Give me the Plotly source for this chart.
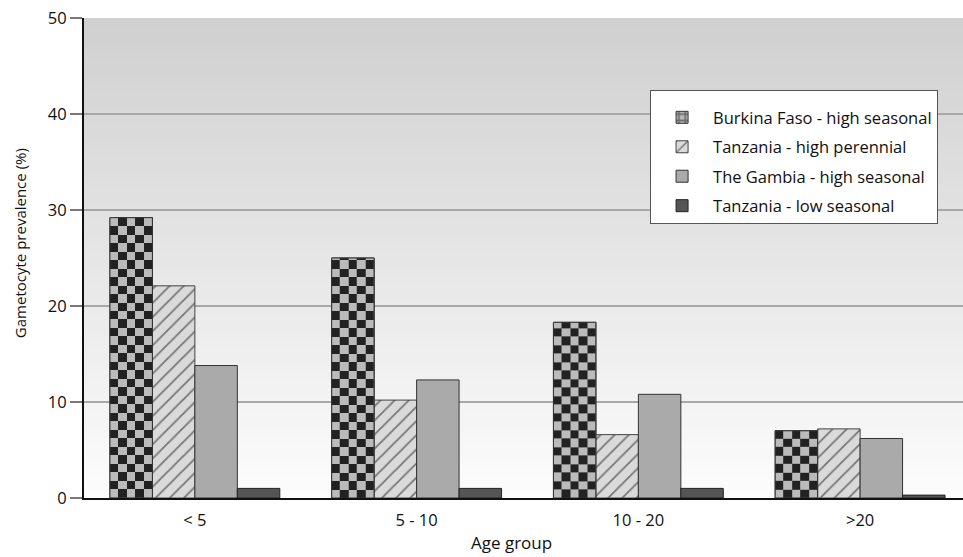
import numpy as np
import plotly.graph_objects as go

categories = ["< 5", "5 - 10", "10 - 20", ">20"]
burkina_high_seasonal = [29.2, 25.0, 18.3, 7.0]
tanzania_high_perennial = [22.1, 10.2, 6.6, 7.2]
gambia_high_seasonal = [13.8, 12.3, 10.8, 6.2]
tanzania_low_seasonal = [1.0, 1.0, 1.0, 0.3]

names = ["Burkina Faso - high seasonal", "Tanzania - high perennial",
         "The Gambia - high seasonal", "Tanzania - low seasonal"]
x_title = "Age group"
y_title = "Gametocyte prevalence (%)"

FONT = "Open Sans"
xpos = list(range(len(categories)))
GROUP_W = 0.766
BAR_W = GROUP_W / 4
offsets = [-GROUP_W / 2 + k * BAR_W for k in range(4)]

fig = go.Figure()

# Bars
fig.add_trace(go.Bar(
    x=xpos, y=burkina_high_seasonal, name=names[0], width=BAR_W, offset=offsets[0],
    marker=dict(color="#bbbbbb", line=dict(color="#333333", width=1),
                pattern=dict(shape="+", fgcolor="#222222", bgcolor="#bbbbbb", size=8, solidity=0.5)),
    legendgroup="a"))
fig.add_trace(go.Bar(
    x=xpos, y=tanzania_high_perennial, name=names[1], width=BAR_W, offset=offsets[1],
    marker=dict(color="#dadada", line=dict(color="#444444", width=1),
                pattern=dict(shape="/", fgcolor="#111111", bgcolor="#dadada", size=10, solidity=0.18)),
    legendgroup="b"))
fig.add_trace(go.Bar(
    x=xpos, y=gambia_high_seasonal, name=names[2], width=BAR_W, offset=offsets[2],
    marker=dict(color="#aaaaaa", line=dict(color="#333333", width=1)),
    legendgroup="c"))
fig.add_trace(go.Bar(
    x=xpos, y=tanzania_low_seasonal, name=names[3], width=BAR_W, offset=offsets[3],
    marker=dict(color="#555555", line=dict(color="#222222", width=1)),
    legendgroup="d"))

# Checkerboard fill for Burkina Faso bars (overlay subplot, drawn above the bars)
CELL = 0.885
NCOL = 5
for xc, v in zip(xpos, burkina_high_seasonal):
    x0 = xc + offsets[0]
    xe = [x0 + i * BAR_W / NCOL for i in range(NCOL + 1)]
    nrow = int(np.ceil(v / CELL))
    ye = [min(j * CELL, v) for j in range(nrow + 1)]
    z = [[(i + j) % 2 for i in range(NCOL)] for j in range(nrow)]
    fig.add_trace(go.Heatmap(
        x=xe, y=ye, z=z, xaxis="x2", yaxis="y2", zmin=0, zmax=1,
        colorscale=[[0, "#bbbbbb"], [1, "#222222"]], showscale=False,
        hoverinfo="skip", showlegend=False))
fig.add_trace(go.Bar(
    x=xpos, y=burkina_high_seasonal, width=BAR_W, offset=offsets[0], xaxis="x2", yaxis="y2",
    marker=dict(color="rgba(0,0,0,0)", line=dict(color="#333333", width=1)),
    showlegend=False, hoverinfo="skip"))

# Background gradient
N = 60
shapes = []
for k in range(N):
    t = k / (N - 1)
    c = int(round(252 - (252 - 208) * t))
    shapes.append(dict(type="rect", xref="paper", yref="paper", x0=0, x1=1,
                       y0=k / N, y1=(k + 1) / N, layer="below", line=dict(width=0),
                       fillcolor=f"rgb({c},{c},{c})"))

XR = [-0.5, 3.464]
YR = [0, 50]
fig.update_layout(
    width=963, height=557,
    margin=dict(l=84, r=0, t=18, b=59),
    paper_bgcolor="white", plot_bgcolor="rgba(0,0,0,0)",
    shapes=shapes, barmode="overlay",
    font=dict(family=FONT, size=15, color="#111111"),
    showlegend=True,
    legend=dict(x=0.644, y=0.85, xanchor="left", yanchor="top", bgcolor="white",
                bordercolor="#555555", borderwidth=1, font=dict(size=16.5),
                title=dict(text=" ", font=dict(size=7)),
                traceorder="grouped", tracegroupgap=5, itemwidth=52),
    xaxis=dict(range=XR, tickvals=xpos, ticktext=categories, showgrid=False, zeroline=False,
               showline=True, linecolor="#111111", linewidth=2, ticks="",
               ticklabelstandoff=6, tickfont=dict(size=16.5)),
    yaxis=dict(range=YR, tickvals=[0, 10, 20, 30, 40, 50], showgrid=True, gridcolor="#a8a8a8",
               gridwidth=1.5, zeroline=False, showline=True, linecolor="#111111", linewidth=2,
               ticks="outside", ticklen=12, tickcolor="#777777", tickwidth=2,
               tickfont=dict(size=16.5)),
    xaxis2=dict(range=XR, overlaying="x", visible=False),
    yaxis2=dict(range=YR, overlaying="y", visible=False),
    annotations=[
        dict(text=x_title, xref="paper", yref="paper", x=0.486, y=-0.092,
             xanchor="center", yanchor="middle", showarrow=False, font=dict(size=17)),
        dict(text=y_title, xref="paper", yref="paper", x=-0.0728, y=0.531, textangle=-90,
             xanchor="center", yanchor="middle", showarrow=False, font=dict(size=15)),
    ],
)

fig.write_html("out.html", config={"displayModeBar": False},
               post_script="document.body.style.margin='0';")
